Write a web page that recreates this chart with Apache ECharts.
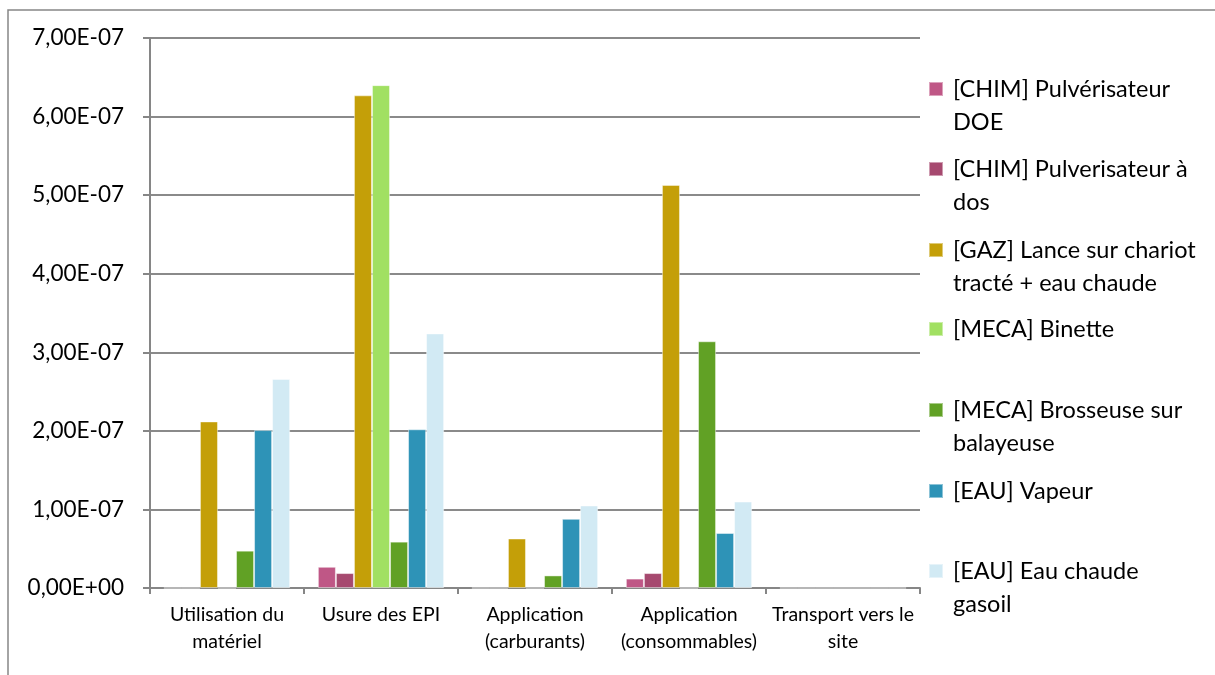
<!DOCTYPE html>
<html>
<head>
<meta charset="utf-8">
<script src="https://cdn.jsdelivr.net/npm/echarts@6/dist/echarts.min.js"></script>
<style>
html,body{margin:0;padding:0;background:#fff;}
#chart{width:1215px;height:675px;}
</style>
</head>
<body>
<div id="chart"></div>
<script>
const categories = ["Utilisation du\nmatériel", "Usure des EPI", "Application\n(carburants)", "Application\n(consommables)", "Transport vers le\nsite"];
const seriesNames = ["[CHIM] Pulvérisateur DOE", "[CHIM] Pulverisateur à dos", "[GAZ] Lance sur chariot tracté + eau chaude", "[MECA] Binette", "[MECA] Brosseuse sur balayeuse", "[EAU] Vapeur", "[EAU] Eau chaude gasoil"];
const legendLabels = ["[CHIM] Pulvérisateur\nDOE", "[CHIM] Pulverisateur à\ndos", "[GAZ] Lance sur chariot\ntracté + eau chaude", "[MECA] Binette", "[MECA] Brosseuse sur\nbalayeuse", "[EAU] Vapeur", "[EAU] Eau chaude\ngasoil"];
const chimDOE   = [0, 0.27e-7, 0, 0.12e-7, 0];
const chimDos   = [0, 0.19e-7, 0, 0.19e-7, 0];
const gazLance  = [2.12e-7, 6.27e-7, 0.63e-7, 5.13e-7, 0];
const mecaBinette = [0, 6.40e-7, 0, 0, 0];
const mecaBrosseuse = [0.475e-7, 0.59e-7, 0.16e-7, 3.14e-7, 0];
const eauVapeur = [2.01e-7, 2.02e-7, 0.88e-7, 0.70e-7, 0];
const eauGasoil = [2.66e-7, 3.24e-7, 1.05e-7, 1.10e-7, 0];
const seriesValues = [chimDOE, chimDos, gazLance, mecaBinette, mecaBrosseuse, eauVapeur, eauGasoil];
const colors = ["#BF5786", "#A6496F", "#C49F08", "#A1E062", "#61A125", "#2E93B7", "#D2EAF4"];
const legendCenters = [89, 169, 250, 329, 410, 491, 571];

function fmt(v) {
  if (Math.abs(v) < 1e-15) return "0,00E+00";
  const s = v.toExponential(2);
  const parts = s.split("e");
  const mant = parts[0].replace(".", ",");
  let exp = parseInt(parts[1], 10);
  const sign = exp < 0 ? "-" : "+";
  exp = Math.abs(exp);
  return mant + "E" + sign + (exp < 10 ? "0" + exp : "" + exp);
}

const chart = echarts.init(document.getElementById("chart"));
const LH = 33;
const legends = seriesNames.map((name, i) => {
  const lines = legendLabels[i].split("\n").length;
  const text = lines > 1 ? "\n" + legendLabels[i] : legendLabels[i];
  const nLines = lines > 1 ? 3 : 1;
  return {
    data: [name],
    orient: "vertical",
    left: 928,
    top: legendCenters[i] - nLines * LH / 2,
    padding: 0,
    itemWidth: 14,
    itemHeight: 14,
    icon: "rect",
    selectedMode: false,
    formatter: () => text,
    textStyle: {
      fontFamily: "Lato",
      fontSize: 23.5,
      lineHeight: LH,
      color: "#000",
      padding: [0, 0, 0, 5]
    }
  };
});

const option = {
  animation: false,
  color: colors,
  graphic: [{
    type: "rect",
    shape: { x: 8, y: 10, width: 1230, height: 700 },
    style: { fill: "none", stroke: "#868686", lineWidth: 1.5 },
    silent: true
  }],
  legend: legends,
  grid: { left: 150, right: 295, top: 38, bottom: 87, containLabel: false },
  xAxis: {
    type: "category",
    data: categories,
    axisLine: { show: true, lineStyle: { color: "#868686", width: 2 } },
    axisTick: { show: true, length: 6, lineStyle: { color: "#868686", width: 2 } },
    axisLabel: { fontFamily: "Lato", fontSize: 19.5, lineHeight: 27, color: "#000", margin: 13, interval: 0 }
  },
  yAxis: {
    type: "value",
    min: 0,
    max: 7e-7,
    interval: 1e-7,
    axisLine: { show: true, lineStyle: { color: "#868686", width: 2 } },
    axisTick: { show: true, length: 7, lineStyle: { color: "#868686", width: 2 } },
    splitLine: { show: true, lineStyle: { color: "#8a8a8a", width: 2 } },
    axisLabel: { fontFamily: "Lato", fontSize: 22.5, color: "#000", margin: 26, formatter: fmt }
  },
  series: seriesNames.map((name, i) => ({
    name: name,
    type: "bar",
    data: seriesValues[i],
    barGap: "0%",
    barCategoryGap: "18%",
    itemStyle: { color: colors[i], borderColor: "rgba(255,255,255,0.45)", borderWidth: 1 }
  }))
};
chart.setOption(option);
</script>
</body>
</html>
